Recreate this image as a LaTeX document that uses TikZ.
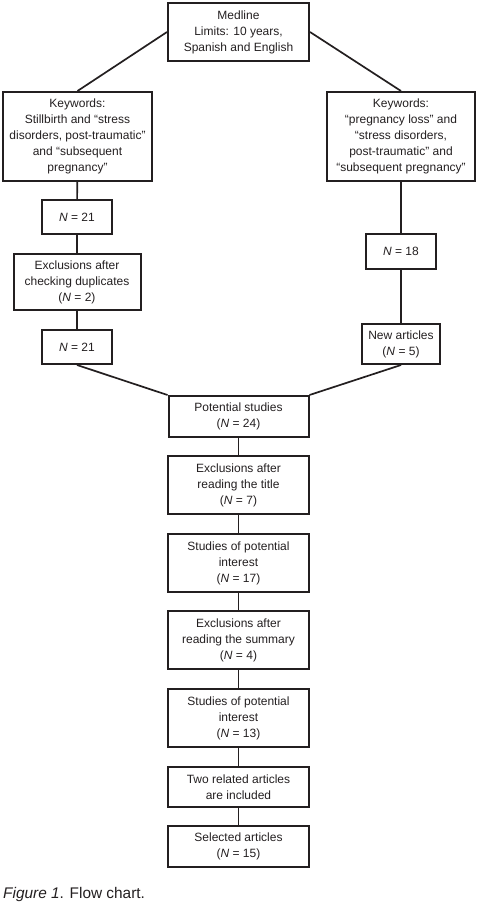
\documentclass[tikz,border=0pt]{standalone}
\usepackage{fontspec}
\setmainfont{Liberation Sans}
\begin{document}
\begin{tikzpicture}[x=1pt,y=-1pt,
  fbox/.style={draw=ink, line width=2pt, inner sep=0pt, align=center,
    text=ink, font=\fontsize{12}{16}\selectfont},
  conn/.style={draw=ink, line width=1.7pt}]
\definecolor{ink}{HTML}{231F20}
\useasboundingbox (0,0) rectangle (480,904);
\node[fbox, minimum width=141pt, minimum height=58pt] (med) at (238.5,32) {Medline\\Limits: 10 years,\\Spanish and English};
\node[fbox, minimum width=149pt, minimum height=89pt] (kl) at (77.5,136.5) {Keywords:\\Stillbirth and “stress\\disorders, post-traumatic"\\and “subsequent\\pregnancy"};
\node[fbox, minimum width=148pt, minimum height=89pt] (kr) at (401,136.5) {Keywords:\\“pregnancy loss" and\\“stress disorders,\\post-traumatic" and\\“subsequent pregnancy"};
\node[fbox, minimum width=70pt, minimum height=34pt] (na) at (77,217) {\textit{N} = 21};
\node[fbox, minimum width=127pt, minimum height=56pt] (exd) at (77,282) {Exclusions after\\checking duplicates\\(\textit{N} = 2)};
\node[fbox, minimum width=70pt, minimum height=34pt] (nb) at (77,347) {\textit{N} = 21};
\node[fbox, minimum width=70pt, minimum height=35pt] (n18) at (401,251.5) {\textit{N} = 18};
\node[fbox, minimum width=78pt, minimum height=40pt] (new) at (401,344) {New articles\\(\textit{N} = 5)};
\node[fbox, minimum width=140pt, minimum height=41pt] (pot) at (238.5,416.5) {Potential studies\\(\textit{N} = 24)};
\node[fbox, minimum width=141pt, minimum height=58pt] (ext) at (238.5,485) {Exclusions after\\reading the title\\(\textit{N} = 7)};
\node[fbox, minimum width=141pt, minimum height=58pt] (s17) at (238.5,563) {Studies of potential\\interest\\(\textit{N} = 17)};
\node[fbox, minimum width=141pt, minimum height=58pt] (exs) at (238.5,640) {Exclusions after\\reading the summary\\(\textit{N} = 4)};
\node[fbox, minimum width=141pt, minimum height=58pt] (s13) at (238.5,718) {Studies of potential\\interest\\(\textit{N} = 13)};
\node[fbox, minimum width=141pt, minimum height=40pt] (two) at (238.5,787) {Two related articles\\are included};
\node[fbox, minimum width=141pt, minimum height=41pt] (sel) at (238.5,846.5) {Selected articles\\(\textit{N} = 15)};
\node[anchor=base west, inner sep=0pt, text=ink, font=\fontsize{15.4}{18}\selectfont] (cap) at (3,898) {\textit{Figure 1}. Flow chart.};
\draw[conn] (med.west) -- (kl.north);
\draw[conn] (med.east) -- (kr.north);
\draw[conn] (kl) -- (na) -- (exd) -- (nb);
\draw[conn] (kr) -- (n18) -- (new);
\draw[conn] (nb.south) -- (pot.north west);
\draw[conn] (new.south) -- (pot.north east);
\draw[conn] (pot) -- (ext) -- (s17) -- (exs) -- (s13) -- (two) -- (sel);
\end{tikzpicture}
\end{document}
